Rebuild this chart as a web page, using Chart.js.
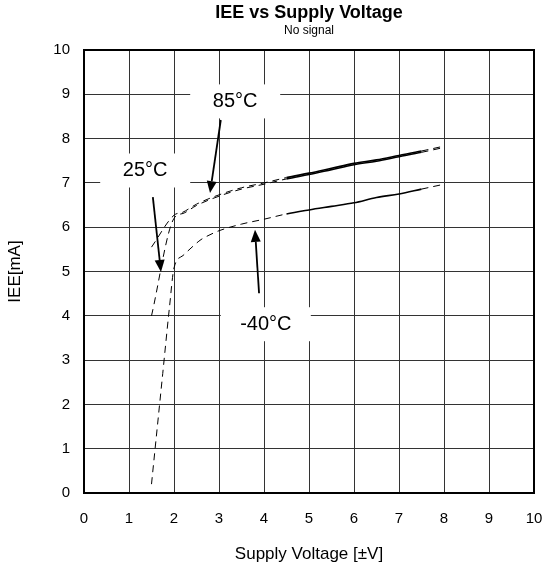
<!DOCTYPE html>
<html><head><meta charset="utf-8">
<script src="https://cdn.jsdelivr.net/npm/chart.js@4/dist/chart.umd.min.js"></script>
<style>html,body{margin:0;padding:0;background:#fff}</style>
</head><body>
<canvas id="c" width="553" height="572"></canvas>
<script>
// ---- data ----
const xTickValues = [0,1,2,3,4,5,6,7,8,9,10];
const yTickValues = [0,1,2,3,4,5,6,7,8,9,10];

const volts25 = [1.5, 2.0, 2.2, 2.5, 3.0, 3.5, 4.0, 4.5, 5.0, 5.5, 6.0, 6.5, 7.0, 7.5, 8.0];
const iee25   = [4.0, 6.2, 6.31, 6.49, 6.7, 6.86, 6.97, 7.09, 7.19, 7.3, 7.41, 7.49, 7.59, 7.69, 7.8];

const volts85 = [1.5, 2.0, 2.2, 2.5, 3.0, 3.5, 4.0, 4.5, 5.0, 5.5, 6.0, 6.5, 7.0, 7.5, 8.0];
const iee85   = [5.55, 6.27, 6.34, 6.52, 6.73, 6.89, 7.0, 7.12, 7.22, 7.33, 7.44, 7.52, 7.62, 7.72, 7.83];

const voltsM40 = [1.5, 1.75, 1.9, 2.0, 2.2, 2.4, 2.6, 2.8, 3.0, 3.5, 4.0, 4.5, 5.0, 5.5, 6.0, 6.5, 7.0, 7.5, 8.0];
const ieeM40   = [0.2, 2.7, 4.2, 5.08, 5.36, 5.55, 5.72, 5.83, 5.92, 6.07, 6.18, 6.3, 6.39, 6.47, 6.55, 6.67, 6.75, 6.86, 6.97];

const labelTexts = ['85°C', '25°C', '-40°C'];
const labelAtX   = [3.36, 1.36, 4.04];
const labelAtY   = [8.84, 7.28, 3.81];
const arrowFromX = [3.04, 1.53, 3.89];
const arrowFromY = [8.42, 6.68, 4.51];
const arrowToX   = [2.80, 1.71, 3.80];
const arrowToY   = [6.77, 4.99, 5.94];

// ---- helpers ----
const toPts = (xs, ys) => xs.map((v, i) => ({x: v, y: ys[i]}));
const FONT = '"Liberation Sans", Arial, sans-serif';
const solidFrom = 4.45, solidTo = 7.55;
const isSolid = c => c.p0.parsed.x >= solidFrom && c.p1.parsed.x <= solidTo;
const seg = {
  borderDash: c => isSolid(c) ? [] : [7, 5],
  borderWidth: c => isSolid(c) ? 1.6 : 1
};
const lineDs = (label, xs, ys) => ({
  label, data: toPts(xs, ys), borderColor: '#000', borderWidth: 1, pointRadius: 0,
  borderDash: [7, 5], fill: false, tension: 0.3, cubicInterpolationMode: 'monotone', segment: seg
});

const framePlugin = {
  id: 'frame',
  beforeDatasetsDraw(chart) {
    const {ctx, chartArea: a} = chart;
    ctx.save(); ctx.strokeStyle = '#000'; ctx.lineWidth = 2;
    ctx.strokeRect(a.left, a.top, a.right - a.left, a.bottom - a.top);
    ctx.restore();
  }
};

const annoPlugin = {
  id: 'anno',
  afterDatasetsDraw(chart) {
    const {ctx, scales: {x, y}} = chart;
    ctx.save();
    const boxW = 90, boxH = 34;
    labelTexts.forEach((t, i) => {
      const cx = x.getPixelForValue(labelAtX[i]), cy = y.getPixelForValue(labelAtY[i]);
      ctx.fillStyle = '#fff';
      ctx.fillRect(cx - boxW / 2, cy - boxH / 2, boxW, boxH);
      ctx.fillStyle = '#000';
      ctx.font = '20px ' + FONT;
      ctx.textAlign = 'center'; ctx.textBaseline = 'middle';
      ctx.fillText(t, cx, cy);
    });
    arrowFromX.forEach((fx, i) => {
      const x0 = x.getPixelForValue(fx), y0 = y.getPixelForValue(arrowFromY[i]);
      const x1 = x.getPixelForValue(arrowToX[i]), y1 = y.getPixelForValue(arrowToY[i]);
      const ang = Math.atan2(y1 - y0, x1 - x0);
      const hl = 12, hw = 5;
      const bx = x1 - hl * Math.cos(ang), by = y1 - hl * Math.sin(ang);
      ctx.strokeStyle = '#000'; ctx.lineWidth = 1.8;
      ctx.beginPath(); ctx.moveTo(x0, y0); ctx.lineTo(bx, by); ctx.stroke();
      ctx.fillStyle = '#000';
      ctx.beginPath();
      ctx.moveTo(x1, y1);
      ctx.lineTo(bx + hw * Math.sin(ang), by - hw * Math.cos(ang));
      ctx.lineTo(bx - hw * Math.sin(ang), by + hw * Math.cos(ang));
      ctx.closePath(); ctx.fill();
    });
    ctx.restore();
  }
};

new Chart(document.getElementById('c'), {
  type: 'line',
  data: {
    datasets: [
      lineDs('25°C', volts25, iee25),
      lineDs('85°C', volts85, iee85),
      lineDs('-40°C', voltsM40, ieeM40)
    ]
  },
  options: {
    responsive: false,
    animation: false,
    layout: {padding: {top: 1, right: 19, bottom: 0, left: 0}},
    plugins: {
      legend: {display: false},
      tooltip: {enabled: false},
      title: {display: true, fullSize: false, text: 'IEE vs Supply Voltage', color: '#000',
              font: {family: FONT, size: 18, weight: 'bold'}, padding: {top: 1, bottom: 0}},
      subtitle: {display: true, fullSize: false, text: 'No signal', color: '#000',
              font: {family: FONT, size: 12}, padding: {top: 0, bottom: 12}}
    },
    scales: {
      x: {
        type: 'linear', min: 0, max: 10,
        afterBuildTicks: s => { s.ticks = xTickValues.map(v => ({value: v})); },
        afterFit: s => { s.height = 79; s.paddingLeft = 0; s.paddingRight = 0; },
        grid: {color: '#333', lineWidth: 1, drawTicks: false},
        border: {display: false},
        ticks: {color: '#000', padding: 17, font: {family: FONT, size: 15}},
        title: {display: true, text: 'Supply Voltage [±V]', color: '#000',
                font: {family: FONT, size: 17}, padding: {top: 0, bottom: 7}}
      },
      y: {
        type: 'linear', min: 0, max: 10,
        afterBuildTicks: s => { s.ticks = yTickValues.map(v => ({value: v})); },
        afterFit: s => { s.width = 84; },
        grid: {color: '#333', lineWidth: 1, drawTicks: false},
        border: {display: false},
        ticks: {color: '#000', padding: 14, font: {family: FONT, size: 15}},
        title: {display: true, text: 'IEE[mA]', color: '#000',
                font: {family: FONT, size: 17}, padding: {top: 5, bottom: 0}}
      }
    }
  },
  plugins: [framePlugin, annoPlugin]
});
</script>
</body></html>
